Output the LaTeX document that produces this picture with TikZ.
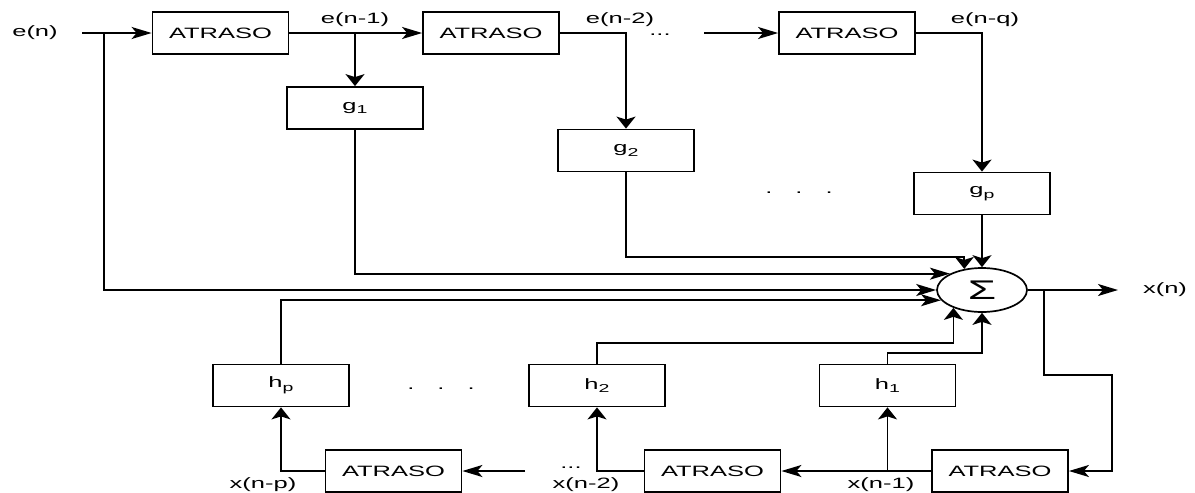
\documentclass[tikz,border=0pt]{standalone}
\usepackage{fontspec}
\setmainfont{Liberation Sans}[FakeStretch=1.7]
\usetikzlibrary{arrows.meta,shapes.geometric}
\newcommand{\sbs}[1]{\raisebox{-3.5pt}{\fontsize{11.5}{11.5}\selectfont #1}}
\begin{document}
\begin{tikzpicture}[x=1pt,y=-1pt,
  every node/.style={font=\fontsize{15}{17}\selectfont, inner sep=0pt},
  blk/.style={draw, line width=1.8pt, minimum width=136pt, minimum height=42pt},
  sumnode/.style={draw, ellipse, line width=1.7pt, minimum width=90pt, minimum height=44pt},
  wire/.style={line width=1.8pt},
  harrow/.style={wire, -{Stealth[length=20pt,width=12pt,inset=5pt]}},
  varrow/.style={wire, -{Stealth[length=12pt,width=19pt,inset=3pt]}},
]
\useasboundingbox (0,0) rectangle (1195,493);
% blocks
\node[blk] (A1) at (220.5,33) {ATRASO};
\node[blk] (A2) at (491,33) {ATRASO};
\node[blk] (A3) at (847,33) {ATRASO};
\node[blk] (g1) at (355,108) {g\sbs{1}};
\node[blk] (g2) at (626,150.5) {g\sbs{2}};
\node[blk] (gp) at (982,193.5) {g\sbs{p}};
\node[sumnode] (sum) at (982,290) {\fontsize{27}{27}\selectfont Σ};
\node[blk] (hp) at (281,385.5) {h\sbs{p}};
\node[blk] (h2) at (597,385.5) {h\sbs{2}};
\node[blk] (h1) at (887.5,385.5) {h\sbs{1}};
\node[blk] (B1) at (393.5,471) {ATRASO};
\node[blk] (B2) at (712.5,471) {ATRASO};
\node[blk] (B3) at (1000,471) {ATRASO};
% labels
\node (en) at (35,33) {e(n)};
\node (l1) at (355,20) {e(n-1)};
\node (l2) at (620,20) {e(n-2)};
\node (lq) at (985,20) {e(n-q)};
\node (xn) at (1165,290) {x(n)};
\node (xp) at (263,485) {x(n-p)};
\node (x2) at (586,485) {x(n-2)};
\node (x1) at (881,485) {x(n-1)};
\node[anchor=base] (dt) at (660,35) {...};
\node[anchor=base] (db) at (571,468) {...};
\node[anchor=base] (dm1) at (799,193.5) {.\hspace{23pt}.\hspace{23pt}.};
\node[anchor=base] (dm2) at (441,389.5) {.\hspace{23pt}.\hspace{23pt}.};
% coordinates
\coordinate (ens) at (82,33);
\coordinate (enb) at (104,33);
\coordinate (t3) at (704,33);
\coordinate (b1s) at (525,0);
\coordinate (out) at (1118,290);
\coordinate (fb) at (1044,290);
\coordinate (fb2) at (1112,375);
\coordinate (yg2) at (0,257);
\coordinate (yh2) at (0,343);
\coordinate (yh1) at (0,353);
% connectors
\draw[harrow] (ens) -- (A1.west);
\draw[harrow] (enb) |- (sum.west);
\draw[harrow] (A1.east) -- (A2.west);
\draw[varrow] (A1.east -| g1.north) -- (g1.north);
\draw[varrow] (A2.east) -| (g2.north);
\draw[harrow] (t3) -- (A3.west);
\draw[varrow] (A3.east) -| (gp.north);
\draw[harrow] (g1.south) |- (sum.153);
\draw[varrow] (g2.south) |- (sum.130 |- yg2) -- (sum.130);
\draw[varrow] (gp.south) -- (sum.north);
\draw[harrow] (hp.north) |- (sum.194);
\draw[varrow] (h2.north) |- (sum.212 |- yh2) -- (sum.212);
\draw[varrow] (h1.north) |- (sum.south |- yh1) -- (sum.south);
\draw[harrow] (sum.east) -- (out);
\draw[harrow] (fb) |- (fb2) |- (B3.east);
\draw[harrow] (B3.west) -- (B2.east);
\draw[varrow] (B3.west -| h1.south) -- (h1.south);
\draw[varrow] (B2.west) -| (h2.south);
\draw[harrow] (b1s |- B1.east) -- (B1.east);
\draw[varrow] (B1.west) -| (hp.south);
\end{tikzpicture}
\end{document}
